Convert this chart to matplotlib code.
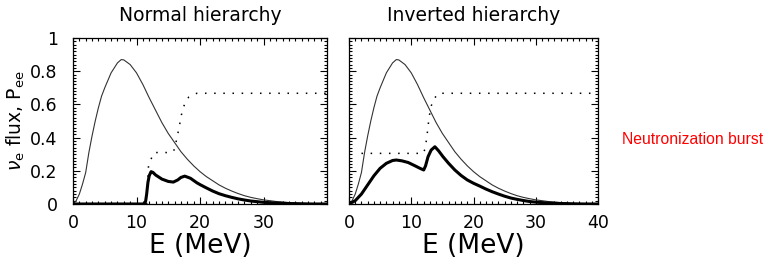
import numpy as np
import matplotlib
matplotlib.use("Agg")
import matplotlib.pyplot as plt
from matplotlib.ticker import MultipleLocator

# spectrum (thin line), same in both panels
E_flux = [0, 0.5, 1, 1.5, 2, 2.5, 3, 3.5, 4, 4.5, 5, 6, 7, 7.6, 8, 9, 10, 11, 12, 13,
          14, 15, 16, 17, 18, 19, 20, 21, 22, 23, 24, 25, 26, 27, 28, 29, 30, 32,
          34, 36, 38, 40]
flux = [0, 0.02, 0.06, 0.12, 0.19, 0.31, 0.41, 0.50, 0.58, 0.65, 0.70, 0.79, 0.85, 0.87,
        0.868, 0.84, 0.79, 0.72, 0.64, 0.565, 0.49, 0.425, 0.37, 0.315, 0.27, 0.23,
        0.195, 0.165, 0.14, 0.115, 0.095, 0.078, 0.063, 0.05, 0.04, 0.032, 0.025,
        0.015, 0.008, 0.004, 0.002, 0.001]

# normal hierarchy
E_pee_nh = [0, 11.6, 11.75, 11.9, 12.4, 12.8, 15.6, 16.1, 16.3, 16.7, 17.0, 17.4, 18.2, 19.5, 40]
pee_nh = [0, 0, 0.12, 0.235, 0.28, 0.31, 0.31, 0.335, 0.39, 0.456, 0.526, 0.586, 0.643, 0.667, 0.667]
E_obs_nh = [0, 11.3, 11.45, 11.6, 11.8, 12.0, 12.3, 12.6, 13, 14, 15, 15.8, 16.5, 17, 17.6,
            18.5, 19.5, 20, 21, 22, 23, 24, 25, 26, 27, 28, 29, 30, 32, 34, 36, 38, 40]
obs_nh = [0, 0, 0.02, 0.06, 0.13, 0.17, 0.195, 0.19, 0.175, 0.15, 0.136, 0.132, 0.145, 0.16,
          0.168, 0.155, 0.128, 0.117, 0.097, 0.078, 0.062, 0.05, 0.04, 0.031, 0.024, 0.018,
          0.014, 0.01, 0.006, 0.003, 0.001, 0, 0]

# inverted hierarchy
E_pee_ih = [2.0, 11.9, 12.2, 12.5, 12.7, 12.9, 13.2, 13.6, 14.2, 14.5, 40]
pee_ih = [0.305, 0.305, 0.33, 0.40, 0.47, 0.53, 0.59, 0.63, 0.66, 0.667, 0.667]
E_obs_ih = [0, 1, 2, 3, 4, 5, 6, 7, 7.6, 8.5, 9.5, 10.5, 11.4, 12.0, 12.3, 12.7, 13.2, 13.8,
            14.4, 15.1, 16, 17, 18, 19, 20, 21, 22, 23, 24, 25, 26, 27, 28, 29, 30, 32,
            34, 36, 38, 40]
obs_ih = [0, 0.02, 0.06, 0.115, 0.17, 0.215, 0.245, 0.262, 0.265, 0.26, 0.25, 0.232, 0.215,
          0.205, 0.23, 0.285, 0.325, 0.345, 0.32, 0.285, 0.245, 0.205, 0.172, 0.145, 0.125,
          0.108, 0.09, 0.074, 0.06, 0.047, 0.036, 0.028, 0.021, 0.015, 0.011, 0.006, 0.003,
          0.001, 0, 0]

ytick_vals = [0, 0.2, 0.4, 0.6, 0.8, 1]
ytick_labels = ["0", "0.2", "0.4", "0.6", "0.8", "1"]

fig = plt.figure(figsize=(7.65, 2.65), dpi=100)
ax1 = fig.add_axes([73/765, 1-204/265, 254/765, 166/265])
ax2 = fig.add_axes([349/765, 1-204/265, 249/765, 166/265])

panels = [(ax1, "Normal hierarchy", E_pee_nh, pee_nh, E_obs_nh, obs_nh, [0, 10, 20, 30]),
          (ax2, "Inverted hierarchy", E_pee_ih, pee_ih, E_obs_ih, obs_ih, [0, 10, 20, 30, 40])]

for ax, title, ep, pp, eo, oo, xt in panels:
    ax.plot(E_flux, flux, color='#333333', lw=0.8)
    ax.plot(ep, pp, color='k', lw=1.1, linestyle=(0, (1, 5)))
    ax.plot(eo, oo, color='k', lw=2.2)
    ax.set_xlim(0, 40)
    ax.set_ylim(0, 1)
    ax.set_xticks(xt)
    ax.set_xticklabels([str(v) for v in xt])
    ax.xaxis.set_minor_locator(MultipleLocator(1))
    ax.yaxis.set_minor_locator(MultipleLocator(0.02))
    ax.set_yticks(ytick_vals)
    ax.tick_params(which='both', direction='in', top=True, right=True, labelsize=12.5,
                   width=0.8, colors='k')
    ax.tick_params(which='major', length=5)
    ax.tick_params(axis='x', which='major', pad=7)
    ax.tick_params(axis='y', which='major', pad=11)
    ax.tick_params(which='minor', length=2.5)
    for s in ax.spines.values():
        s.set_linewidth(0.9)
    ax.set_title(title, fontsize=13.5, pad=12)
    ax.set_xlabel("E (MeV)", fontsize=19, labelpad=1)

ax1.set_yticklabels(ytick_labels)
ax1.set_ylabel(r"$\nu_{\rm e}$ flux, P$_{\rm ee}$", fontsize=13.5, labelpad=2)
ax2.set_yticklabels([])

fig.text(622/765, 1-140/265, "Neutronization burst", color='red', fontsize=11.3,
         family='Liberation Sans', va='center', ha='left')

fig.savefig("out.png", dpi=100)
